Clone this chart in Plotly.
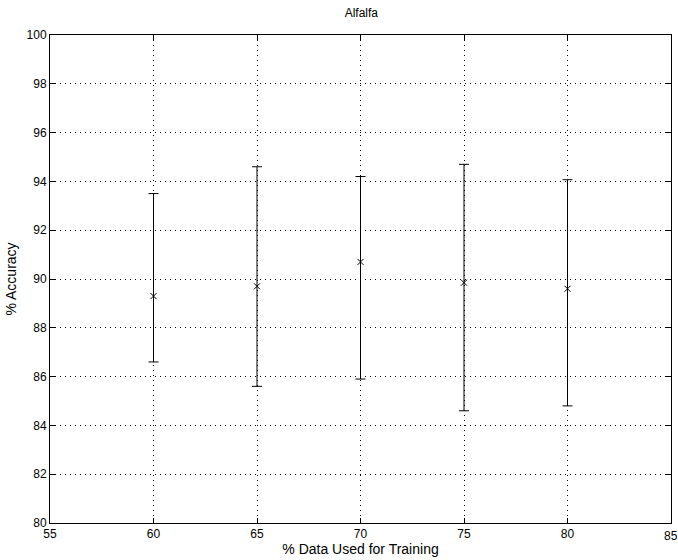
import plotly.graph_objects as go

train_pct = [60, 65, 70, 75, 80]
acc_mean = [89.3, 89.7, 90.7, 89.85, 89.6]
acc_upper = [93.5, 94.6, 94.2, 94.7, 94.07]
acc_lower = [86.6, 85.6, 85.9, 84.6, 84.8]
x_ticks = [55, 60, 65, 70, 75, 80, 85]
y_ticks = list(range(80, 101, 2))

err_plus = [u - m for u, m in zip(acc_upper, acc_mean)]
err_minus = [m - l for m, l in zip(acc_mean, acc_lower)]

fig = go.Figure()
fig.add_trace(go.Scatter(
    x=train_pct, y=acc_mean, mode="markers",
    marker=dict(symbol="x-thin", size=6, color="black", line=dict(width=1, color="black")),
    error_y=dict(type="data", symmetric=False, array=err_plus, arrayminus=err_minus,
                 color="black", thickness=1, width=5),
    showlegend=False,
))

font = dict(family="Liberation Sans, Arial, Helvetica, sans-serif", size=12, color="black")

fig.update_layout(
    width=678, height=560,
    margin=dict(l=50, r=7, t=35, b=37),
    paper_bgcolor="white", plot_bgcolor="white",
    font=font,
    title=dict(text="Alfalfa", x=0.533, xanchor="center", y=0.978, yanchor="middle",
               font=dict(size=12)),
    xaxis=dict(range=[55, 85], tickvals=x_ticks[:-1], ticks="inside",
               ticklen=5, tickcolor="black", showline=True, linecolor="black", linewidth=1,
               mirror="ticks", showgrid=True, gridcolor="black", griddash="1px,4px", gridwidth=1,
               zeroline=False, title=dict(text="% Data Used for Training", standoff=3),
               tickfont=font),
    yaxis=dict(range=[80, 100], tickvals=y_ticks, ticks="inside",
               ticklen=5, tickcolor="black", showline=True, linecolor="black", linewidth=1,
               mirror="ticks", showgrid=True, gridcolor="black", griddash="1px,4px", gridwidth=1,
               zeroline=False, title=dict(text="% Accuracy", standoff=6),
               tickfont=font),
)

fig.add_annotation(x=x_ticks[-1], xref="x", y=0, yref="paper", yshift=-4,
                   text=str(x_ticks[-1]), showarrow=False, xanchor="center", yanchor="top",
                   font=font)
# extra vertical tick at x=85 already drawn by axis line; nothing else needed

fig.write_html("out.html")
